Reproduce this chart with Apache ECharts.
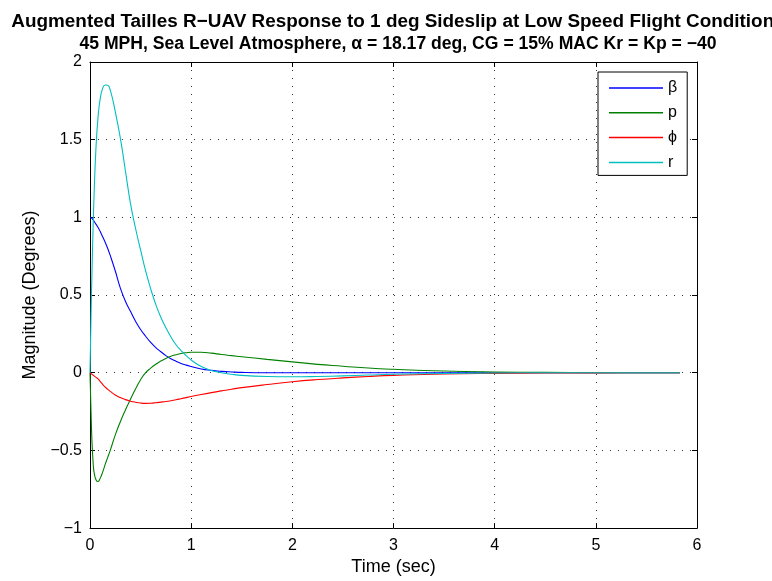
<!DOCTYPE html>
<html>
<head>
<meta charset="utf-8">
<script src="https://cdn.jsdelivr.net/npm/echarts@6/dist/echarts.min.js"></script>
<style>
  html, body { margin: 0; padding: 0; background: #ffffff; }
  #chart { width: 772px; height: 581px; }
</style>
</head>
<body>
<div id="chart"></div>
<script>
// Lateral-directional response of the augmented R-UAV to a 1 deg sideslip
const timeSec = [0, 0.01, 0.02, 0.03, 0.04, 0.06, 0.08, 0.1, 0.125, 0.15, 0.175, 0.2,
  0.25, 0.3, 0.35, 0.4, 0.45, 0.5, 0.55, 0.6, 0.65, 0.7, 0.75, 0.8, 0.85, 0.9, 0.95, 1.0,
  1.1, 1.2, 1.3, 1.4, 1.5,
  1.75, 2.0, 2.25, 2.5, 2.75, 3.0, 3.5, 4.0, 4.5, 5.0, 5.5, 5.83];

// sideslip angle beta (deg)
const betaDeg = [1.0, 0.998, 0.993, 0.985, 0.975, 0.955, 0.935, 0.91, 0.875, 0.84, 0.80, 0.755,
  0.655, 0.545, 0.46, 0.395, 0.332, 0.278, 0.235, 0.195, 0.162, 0.135, 0.11, 0.09, 0.074, 0.06, 0.049, 0.04,
  0.024, 0.015, 0.009, 0.005, 0.002,
  0, 0, 0, 0, 0, 0, 0, 0, 0, 0, 0, 0];

// roll rate p
const rollRate = [0, -0.25, -0.45, -0.57, -0.64, -0.69, -0.70, -0.68, -0.64, -0.59, -0.545, -0.50,
  -0.40, -0.315, -0.24, -0.17, -0.105, -0.045, 0.0, 0.03, 0.055, 0.075, 0.092, 0.106, 0.116, 0.124, 0.129, 0.132,
  0.132, 0.126, 0.117, 0.11, 0.103,
  0.086, 0.07, 0.054, 0.042, 0.03, 0.022, 0.011, 0.005, 0.002, 0.001, 0, 0];

// bank angle phi
const bankAngle = [0, -0.005, -0.01, -0.015, -0.02, -0.03, -0.04, -0.055, -0.075, -0.092, -0.107, -0.12,
  -0.143, -0.16, -0.173, -0.183, -0.19, -0.195, -0.197, -0.196, -0.193, -0.189, -0.185, -0.18, -0.174, -0.167, -0.16, -0.153,
  -0.14, -0.128, -0.117, -0.106, -0.096,
  -0.076, -0.058, -0.044, -0.033, -0.024, -0.017, -0.008, -0.004, -0.002, -0.001, 0, 0];

// yaw rate r
const yawRate = [0, 0.36, 0.66, 0.92, 1.14, 1.46, 1.65, 1.76, 1.83, 1.852, 1.85, 1.82,
  1.68, 1.51, 1.30, 1.09, 0.93, 0.79, 0.655, 0.54, 0.44, 0.357, 0.29, 0.23, 0.18, 0.143, 0.11, 0.082,
  0.04, 0.015, 0.0, -0.01, -0.017,
  -0.024, -0.026, -0.024, -0.02, -0.015, -0.01, -0.005, -0.002, 0, 0, 0, 0];

const seriesNames = ['β', 'p', 'ϕ', 'r'];
const seriesColors = ['#0000ff', '#008000', '#ff0000', '#00bfbf'];
const seriesValues = [betaDeg, rollRate, bankAngle, yawRate];

const xTicks = { min: 0, max: 6, step: 1 };
const yTicks = { min: -1, max: 2, step: 0.5 };

const titleLines = [
  'Augmented Tailles R\u2212UAV Response to 1 deg Sideslip at Low Speed Flight Conditions',
  '45 MPH, Sea Level Atmosphere, \u03b1 = 18.17 deg, CG = 15% MAC Kr = Kp = \u221240'
];

const FONT = '"Liberation Sans", Arial, Helvetica, sans-serif';

function fmtTick(v) {
  return v < 0 ? '\u2212' + String(-v) : String(v);
}

const gridLine = { show: true, lineStyle: { color: '#333', width: 1, type: [1, 7] } };
const boxLine = { show: true, onZero: false, lineStyle: { color: '#000', width: 1 } };
const tickIn = { show: true, inside: true, length: 5, lineStyle: { color: '#000', width: 1 } };

const chart = echarts.init(document.getElementById('chart'), null, { renderer: 'canvas' });

chart.setOption({
  backgroundColor: '#ffffff',
  animation: false,
  title: {
    text: '{a|' + titleLines[0] + '}\n{b|' + titleLines[1] + '}',
    left: 393,
    top: 6,
    textAlign: 'center',
    textStyle: {
      fontFamily: FONT, fontWeight: 'bold', color: '#000',
      rich: {
        a: { fontFamily: FONT, fontWeight: 'bold', fontSize: 18.9, lineHeight: 22, color: '#000' },
        b: { fontFamily: FONT, fontWeight: 'bold', fontSize: 17.6, lineHeight: 22, color: '#000' }
      }
    }
  },
  grid: { left: 90, right: 75, top: 62, bottom: 51, containLabel: false },
  legend: {
    orient: 'vertical',
    left: 598,
    top: 72,
    padding: [8, 10, 5, 11],
    itemWidth: 54,
    itemHeight: 14,
    itemGap: 8.8,
    backgroundColor: '#fff',
    borderColor: '#000',
    borderWidth: 1,
    borderRadius: 0,
    textStyle: { fontFamily: FONT, fontSize: 16, color: '#000' },
    data: seriesNames.map(n => ({ name: n, icon: 'path://M0,0 L54,0 L54,1.5 L0,1.5 Z' }))
  },
  xAxis: [
    {
      type: 'value', min: xTicks.min, max: xTicks.max, interval: xTicks.step,
      name: 'Time (sec)', nameLocation: 'middle', nameGap: 28,
      nameTextStyle: { fontFamily: FONT, fontSize: 18, color: '#000' },
      axisLine: boxLine, axisTick: tickIn,
      axisLabel: { fontFamily: FONT, fontSize: 16, color: '#000', margin: 9, formatter: fmtTick },
      splitLine: gridLine
    },
    {
      type: 'value', position: 'top', min: xTicks.min, max: xTicks.max, interval: xTicks.step,
      axisLine: boxLine, axisTick: tickIn, axisLabel: { show: false }, splitLine: { show: false }
    }
  ],
  yAxis: [
    {
      type: 'value', min: yTicks.min, max: yTicks.max, interval: yTicks.step,
      name: 'Magnitude (Degrees)', nameLocation: 'middle', nameGap: 45, nameRotate: 90,
      nameTextStyle: { fontFamily: FONT, fontSize: 18, color: '#000' },
      axisLine: boxLine, axisTick: tickIn,
      axisLabel: { fontFamily: FONT, fontSize: 16, color: '#000', margin: 8, formatter: fmtTick },
      splitLine: gridLine
    },
    {
      type: 'value', position: 'right', min: yTicks.min, max: yTicks.max, interval: yTicks.step,
      axisLine: boxLine, axisTick: tickIn, axisLabel: { show: false }, splitLine: { show: false }
    }
  ],
  series: seriesNames.map((name, i) => ({
    name: name,
    type: 'line',
    xAxisIndex: 0,
    yAxisIndex: 0,
    data: timeSec.map((t, k) => [t, seriesValues[i][k]]),
    showSymbol: false,
    symbol: 'none',
    smooth: 0.5,
    color: seriesColors[i],
    lineStyle: { color: seriesColors[i], width: 1.1 },
    emphasis: { disabled: true }
  }))
});
</script>
</body>
</html>
